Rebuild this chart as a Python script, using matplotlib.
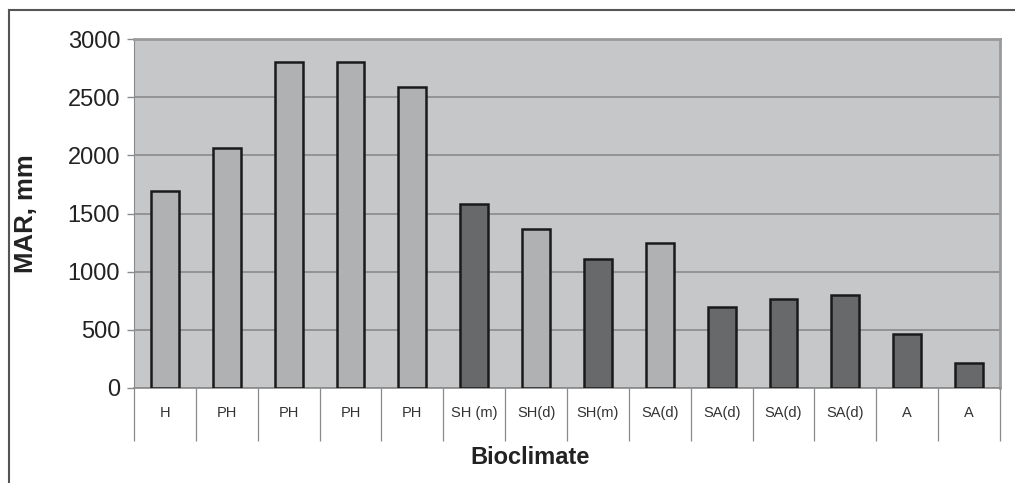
import numpy as np
import matplotlib.pyplot as plt
from matplotlib.lines import Line2D

plt.rcParams['font.family'] = ['Liberation Sans', 'DejaVu Sans']

# data
bioclimate = ['H', 'PH', 'PH', 'PH', 'PH', 'SH (m)', 'SH(d)', 'SH(m)',
              'SA(d)', 'SA(d)', 'SA(d)', 'SA(d)', 'A', 'A']
mar_mm = [1690, 2060, 2800, 2800, 2590, 1580, 1365, 1110,
          1250, 700, 765, 800, 465, 215]
dark = [False, False, False, False, False, True, False, True,
        False, True, True, True, True, True]

light_col = '#b0b1b3'
dark_col = '#68696b'
bg_col = '#c6c7c9'

fig = plt.figure(figsize=(10.15, 4.83), dpi=100)
ax = fig.add_axes([134 / 1015, 95 / 483, 866 / 1015, 349 / 483])
ax.set_facecolor(bg_col)

x = np.arange(len(bioclimate))
colors = [dark_col if d else light_col for d in dark]
ax.bar(x, mar_mm, width=0.45, color=colors, edgecolor='#1a1a1a',
       linewidth=1.8, zorder=3)

ax.set_xlim(-0.5, len(bioclimate) - 0.5)
ax.set_ylim(0, 3000)
ax.set_yticks(np.arange(0, 3001, 500))
ax.grid(axis='y', color='#8a8a8a', linewidth=1.2, zorder=0)

# category labels, separated by long minor ticks
ax.set_xticks(x)
ax.set_xticklabels(bioclimate, fontsize=10.5, color='#333333')
ax.set_xticks(np.arange(-0.5, len(bioclimate), 1), minor=True)
ax.tick_params(axis='x', which='major', length=0, pad=13)
ax.tick_params(axis='x', which='minor', length=38, width=0.9,
               color='#8a8a8a')
ax.tick_params(axis='y', length=5, width=1, color='#8a8a8a',
               labelsize=17, pad=5, labelcolor='#222222')

for s in ['top', 'right']:
    ax.spines[s].set_color('#9a9a9a')
    ax.spines[s].set_linewidth(2)
ax.spines['left'].set_color('#8a8a8a')
ax.spines['bottom'].set_color('#8a8a8a')
ax.spines['bottom'].set_linewidth(1.2)

ax.set_ylabel('MAR, mm', fontsize=18.5, fontweight='bold', color='#222222')
ax.yaxis.set_label_coords(-96 / 866, 0.5)
fig.text(530 / 1015, 25 / 483, 'Bioclimate', fontsize=17,
         fontweight='bold', color='#222222', ha='center', va='center')

# outer frame (left and top edges)
fig.add_artist(Line2D([9 / 1015, 9 / 1015], [0, 473 / 483],
                      color='#555555', linewidth=1.5))
fig.add_artist(Line2D([9 / 1015, 1], [473 / 483, 473 / 483],
                      color='#555555', linewidth=1.5))

fig.savefig('out.png', dpi=100)
